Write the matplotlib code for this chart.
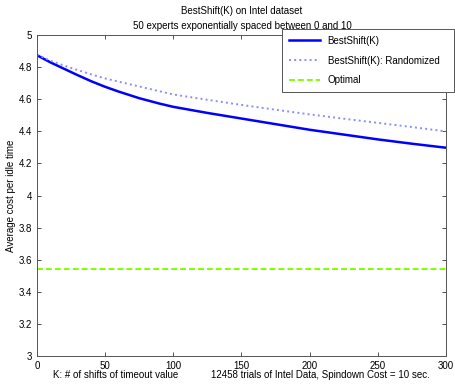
import numpy as np
import matplotlib
matplotlib.use("Agg")
import matplotlib.pyplot as plt

plt.rcParams['font.family'] = ['Liberation Sans', 'DejaVu Sans']
plt.rcParams['font.size'] = 7

# number of shifts K and average cost per idle time
k_values = [0, 10, 20, 30, 40, 50, 60, 75, 90, 100, 125, 150, 175, 200, 225,
            250, 275, 300]
best_shift = [4.875, 4.83, 4.79, 4.75, 4.712, 4.678, 4.648, 4.607, 4.573,
              4.553, 4.515, 4.48, 4.445, 4.41, 4.38, 4.35, 4.323, 4.298]
best_shift_rand = [4.88, 4.84, 4.81, 4.782, 4.755, 4.73, 4.71, 4.68, 4.65,
                   4.63, 4.597, 4.565, 4.535, 4.506, 4.479, 4.453, 4.427, 4.40]
optimal_cost = 3.54

fig = plt.figure(figsize=(4.55, 3.86), dpi=100)
ax = fig.add_axes([0.081, 0.078, 0.899, 0.831])

ax.plot(k_values, best_shift, color=(0, 0, 1), lw=1.8, label='BestShift(K)')
ax.plot(k_values, best_shift_rand, color=(0.55, 0.55, 1.0), lw=1.4, ls=':',
        label='BestShift(K): Randomized')
ax.plot([k_values[0], k_values[-1]], [optimal_cost, optimal_cost],
        color=(0.5, 1.0, 0.0), lw=1.4, ls=(0, (3, 1.6)), label='Optimal')

ax.set_xlim(0, 300)
ax.set_ylim(3, 5)
ax.set_xticks(np.arange(0, 301, 50))
ax.set_yticks(np.arange(3, 5.01, 0.2))
ax.set_yticklabels(['3', '3.2', '3.4', '3.6', '3.8', '4', '4.2', '4.4', '4.6', '4.8', '5'])
ax.tick_params(direction='in', top=True, right=True, length=3, width=0.6,
               colors='#333333', labelcolor='black', labelsize=7)
for s in ax.spines.values():
    s.set_color('#555555')
    s.set_linewidth(0.7)

ax.set_ylabel('Average cost per idle time', fontsize=7)
ax.yaxis.set_label_coords(-0.05, 0.5)
fig.text(0.255, 0.022, 'K: # of shifts of timeout value', ha='center', fontsize=7)
fig.text(0.704, 0.022, '12458 trials of Intel Data, Spindown Cost = 10 sec.',
         ha='center', fontsize=7)

fig.text(0.532, 0.965, 'BestShift(K) on Intel dataset', ha='center', fontsize=7)
fig.text(0.532, 0.925, '50 experts exponentially spaced between 0 and 10',
         ha='center', fontsize=7)

leg = ax.legend(loc='upper left', bbox_to_anchor=(0.6198, 0.772, 0.378, 0.1529),
                bbox_transform=fig.transFigure, mode='expand', borderaxespad=0,
                fancybox=False, framealpha=1, edgecolor='#555555', fontsize=7,
                handlelength=3.2, borderpad=0.7, labelspacing=1.0)
leg.get_frame().set_linewidth(0.7)

fig.savefig('out.png', dpi=100)
